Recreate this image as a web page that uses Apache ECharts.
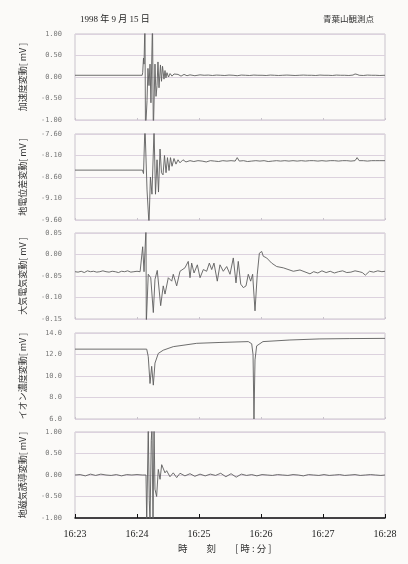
<!DOCTYPE html>
<html><head><meta charset="utf-8">
<script src="https://cdn.jsdelivr.net/npm/echarts@6/dist/echarts.min.js"></script>
<style>html,body{margin:0;padding:0;background:#fbfaf8}#c{width:408px;height:564px}</style>
</head><body><div id="c"></div>
<script>
// time in seconds after 16:23:00
const xTickLabels = ['16:23','16:24','16:25','16:26','16:27','16:28'];
const panelNames = ['加速度変動[ mV ]','地電位差変動[ mV ]','大気電気変動[ mV ]','イオン濃度変動[ mV ]','地磁気誘導変動[ mV ]'];
const yMins = [-1, -9.6, -0.15, 6, -1];
const yMaxs = [1, -7.6, 0.05, 14, 1];
const yIntervals = [0.5, 0.5, 0.05, 2, 0.5];
const yDecimals = [2, 2, 2, 1, 2];

// panel 1: 加速度変動
const p1T = [0,65,65.5,66.3,66.8,67.7,68.2,69.7,70.6,71.6,72.6,73.5,75,75.8,77.4,78.4,79.4,80.3,81.3,82.7,83.7,84.7,86.1,87.1,88,89,90.5,92,93.9,95.8,97.7,99.7,102.6,105.5,108.4,111.3,116,121,125,129,133,137,141,145,149,153,157,161,165,169,173,177,181,185,189,193,197,201,205,209,213,217,221,225,229,233,237,241,245,249,253,257,261,265,269,271,272,273,275,279,283,287,291,295,300];
const p1V = [0.04,0.04,0.1,0.44,0.3,1.3,-1.3,-0.55,0.2,-0.2,0.3,-0.6,1.3,-1.3,0.3,-0.45,-0.2,0.35,-0.25,0.28,-0.1,0.25,-0.05,0.15,-0.02,0.1,0.0,0.08,0.02,0.07,0.03,0.06,0.02,0.06,0.03,0.05,0.03,0.05,0.04,0.045,0.035,0.045,0.04,0.035,0.045,0.04,0.03,0.045,0.04,0.035,0.045,0.04,0.04,0.035,0.045,0.04,0.035,0.04,0.045,0.04,0.035,0.04,0.045,0.04,0.04,0.035,0.045,0.04,0.04,0.035,0.045,0.04,0.04,0.035,0.045,0.07,0.1,0.06,0.04,0.035,0.045,0.04,0.04,0.035,0.04];

// panel 2: 地電位差変動
const p2T = [0,65.3,66.3,67.7,69.7,71.6,73,74.5,76.5,77.9,79.4,80.8,82.3,83.7,85.2,86.6,88.1,89.5,91,92.4,93.9,95.8,97.7,99.7,101.6,104.5,107.4,111.3,115,119,123,127,131,135,139,143,147,151,155,157,159,163,167,171,175,179,183,187,191,195,199,203,207,211,215,219,223,227,231,235,239,243,247,251,255,259,263,267,271,273,275,279,283,287,291,295,300];
const p2V = [-8.44,-8.44,-8.52,-7.4,-8.9,-9.7,-8.6,-9.0,-7.5,-9.0,-8.2,-8.95,-7.95,-8.5,-8.55,-8.1,-8.5,-8.15,-8.45,-8.15,-8.35,-8.17,-8.3,-8.2,-8.27,-8.2,-8.25,-8.22,-8.24,-8.22,-8.23,-8.25,-8.22,-8.23,-8.24,-8.22,-8.23,-8.22,-8.23,-8.15,-8.23,-8.22,-8.24,-8.23,-8.22,-8.23,-8.22,-8.24,-8.23,-8.22,-8.23,-8.22,-8.23,-8.22,-8.23,-8.22,-8.23,-8.22,-8.22,-8.23,-8.22,-8.23,-8.22,-8.22,-8.23,-8.22,-8.22,-8.23,-8.22,-8.15,-8.22,-8.22,-8.23,-8.22,-8.22,-8.22,-8.22];

// panel 3: 大気電気変動
const p3T = [0,3,6,9,12,15,18,21,24,27,30,33,36,39,42,45,48,51,54,57,60,63,65.5,66.8,68.7,69,70.9,73.3,75.8,77.4,79.6,82.9,85.4,87.1,90.3,93.6,95.1,98.4,101.6,106.4,109.6,111.3,112.9,115.2,118.4,121,124.2,127.4,130,132.3,134.5,137.7,140.3,143.5,146.8,150,153.2,155.8,158,160.4,162.9,165.5,167.7,170,171.9,174.2,176.4,178.4,180.7,182.2,185.5,190.3,195.2,201.6,211.3,217.7,227.4,231,235,239,243,247,251,255,259,263,267,271,275,278,281,285,289,293,297,300];
const p3V = [-0.040,-0.041,-0.039,-0.042,-0.038,-0.040,-0.039,-0.041,-0.040,-0.038,-0.040,-0.041,-0.039,-0.040,-0.042,-0.039,-0.040,-0.038,-0.041,-0.040,-0.039,-0.040,0.018,-0.04,0.06,-0.16,-0.046,-0.054,-0.135,-0.058,-0.037,-0.119,-0.073,-0.092,-0.054,-0.062,-0.046,-0.073,-0.039,-0.031,-0.016,-0.054,-0.02,-0.043,-0.024,-0.054,-0.035,-0.039,-0.02,-0.035,-0.02,-0.062,-0.024,-0.039,-0.028,-0.046,-0.008,-0.066,-0.016,-0.069,-0.077,-0.073,-0.046,-0.062,-0.046,-0.131,-0.046,0.003,0.007,-0.004,-0.008,-0.02,-0.028,-0.031,-0.039,-0.036,-0.045,-0.040,-0.043,-0.038,-0.042,-0.039,-0.043,-0.040,-0.038,-0.042,-0.041,-0.038,-0.040,-0.042,-0.048,-0.039,-0.041,-0.038,-0.040,-0.039,-0.041,-0.040];

// panel 4: イオン濃度変動
const p4T = [0,69.4,70.9,72.6,74.2,75.8,77.4,80.6,85.4,95.1,117.8,140.3,167.7,171,172.3,173.2,174.2,175.8,181.9,208,237,266,300];
const p4V = [12.5,12.5,11.8,9.3,10.9,9.15,11.2,12.1,12.4,12.73,13.04,13.12,13.2,13.0,12.0,6.0,11.5,12.8,13.2,13.35,13.45,13.48,13.5];

// panel 5: 地磁気誘導変動
const p5T = [0,5,10,15,20,25,30,35,40,45,50,55,60,65,68.7,69.4,70.9,71.9,72.6,73.8,74.5,75.5,76.5,77.4,79,80.6,82.3,83.9,85.4,87.1,88.7,91.9,95.1,98.4,101.6,106.4,111.3,116,121,126,131,136,141,146,151,156,161,166,171,176,181,186,191,196,201,206,211,216,221,226,231,236,241,246,251,256,261,266,271,276,281,286,291,296,300];
const p5V = [0.0,0.01,-0.02,0.02,-0.01,0.02,0.0,-0.01,0.01,-0.02,0.01,0.0,0.01,0.0,0.0,-1.1,1.1,-0.6,-1.1,0.8,1.1,-1.1,1.1,-0.33,-0.5,0.13,-0.1,0.24,0.28,0.05,0.1,-0.04,0.05,-0.06,0.04,-0.02,0.03,-0.03,0.02,-0.02,0.02,-0.01,0.04,-0.04,0.03,-0.05,0.02,-0.01,0.01,-0.02,0.01,0.0,-0.01,0.01,0.0,-0.01,0.01,0.0,-0.02,0.01,0.0,-0.01,0.01,-0.01,0.0,0.01,-0.01,0.0,0.01,-0.01,0.0,0.01,0.0,-0.01,0.0];

const seriesT = [p1T,p2T,p3T,p4T,p5T];
const seriesV = [p1V,p2V,p3V,p4V,p5V];

const SERIF = "'Liberation Serif','DejaVu Serif','Noto Sans CJK JP',serif";
const JP = "'Noto Sans CJK JP','Noto Sans CJK SC',sans-serif";
const tops = [34,134,233,333,432];
const H = 86;

const grids = [], xAxes = [], yAxes = [], series = [];
for (let i = 0; i < 5; i++) {
  const last = i === 4;
  grids.push({left: 75, right: 23, top: tops[i], height: H, show: true, borderColor: '#c9c3cc', borderWidth: 1, backgroundColor: 'transparent'});
  xAxes.push({
    type: 'value', gridIndex: i, min: 0, max: 300, interval: 60,
    axisLine: {show: last, onZero: false, lineStyle: {color: '#111', width: 1.5}},
    axisTick: {show: true, inside: true, length: last ? 4 : 2, lineStyle: {color: last ? '#111' : '#c9c3cc'}},
    splitLine: {show: false},
    axisLabel: {show: last, margin: 11, color: '#222', fontSize: 10, fontFamily: SERIF,
      formatter: v => xTickLabels[Math.round(v / 60)]}
  });
  const dec = yDecimals[i];
  yAxes.push({
    type: 'value', gridIndex: i, min: yMins[i], max: yMaxs[i], interval: yIntervals[i],
    name: panelNames[i], nameLocation: 'middle', nameRotate: 90, nameGap: 48,
    nameTextStyle: {fontSize: 9, color: '#333', fontFamily: JP},
    axisLine: {show: false}, axisTick: {show: false},
    splitLine: {show: true, lineStyle: {color: '#dcd2de', width: 1}},
    axisLabel: {margin: 13, color: '#777', fontSize: 7, fontFamily: "'DejaVu Sans Mono',monospace",
      formatter: v => v.toFixed(dec)}
  });
  series.push({
    type: 'line', xAxisIndex: i, yAxisIndex: i, showSymbol: false, symbol: 'none', clip: true,
    lineStyle: {color: '#5e5e5e', width: 0.9}, animation: false,
    data: seriesT[i].map((t, k) => [t, seriesV[i][k]])
  });
}

const chart = echarts.init(document.getElementById('c'), null, {renderer: 'canvas'});
chart.setOption({
  backgroundColor: '#fbfaf8',
  animation: false,
  grid: grids, xAxis: xAxes, yAxis: yAxes, series: series,
  graphic: [
    {type: 'text', left: 80, top: 15, style: {text: '1998 年 9 月 15 日', fill: '#222', font: '9px ' + SERIF}},
    {type: 'text', left: 323, top: 15, style: {text: '青葉山観測点', fill: '#333', font: '8.5px ' + JP}},
    {type: 'text', left: 178, top: 544, style: {text: '時　　刻　　[ 時 : 分 ]', fill: '#333', font: '9.5px ' + JP}}
  ]
});
</script></body></html>
